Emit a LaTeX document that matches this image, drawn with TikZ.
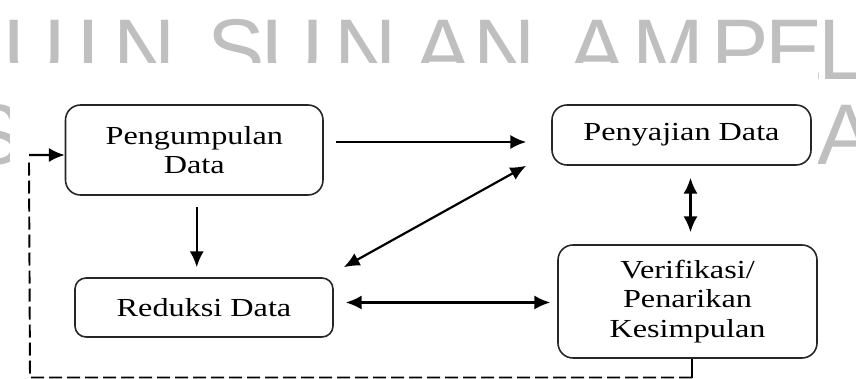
\documentclass[tikz,border=0pt]{standalone}
\usepackage{fontspec}
\setmainfont{Liberation Serif}[FakeStretch=1.24]
\newfontfamily\wmfont{Liberation Sans}
\usetikzlibrary{arrows.meta}
\begin{document}
\begin{tikzpicture}[
  box/.style={draw=black!85, line width=0.9pt, rounded corners=0.3cm, align=center, inner sep=0pt, font=\fontsize{14.8}{16.6}\selectfont},
  arr/.style={line width=1.25pt, -{Latex[length=9pt,width=8pt]}},
  darr/.style={line width=1.25pt, {Latex[length=9pt,width=8pt]}-{Latex[length=9pt,width=8pt]}},
  wm/.style={text=black!25, font=\wmfont\fontsize{49}{49}\selectfont, anchor=base, inner sep=0pt}]
\useasboundingbox (0,0) rectangle (17.12,7.56);
\foreach \c/\x [count=\i] in {U/0.70,I/1.76,N/2.90,S/4.72,U/5.86,N/7.32,A/8.86,N/10.10,A/11.94,M/13.36,P/14.80,E/15.88,L/16.84}
  \node[wm] (wma\i) at (\x,5.96) {\c};
\node[wm] (wmb1) at (-0.12,4.26) {S};
\node[wm] (wmb2) at (16.92,4.26) {A};
\fill[white] (0.2,0) rectangle (16.36,6.3);

\node[box, minimum width=5.15cm, minimum height=1.8cm] (peng) at (3.885,4.56) {Pengumpulan\\Data};
\node[box, minimum width=5.18cm, minimum height=1.2cm] (peny) at (13.63,4.86) {Penyajian Data};
\node[box, minimum width=5.16cm, minimum height=1.18cm, rounded corners=0.22cm] (red) at (4.08,1.41) {Reduksi Data};
\node[box, minimum width=5.18cm, minimum height=2.26cm] (ver) at (13.75,1.53) {Verifikasi/\\Penarikan\\Kesimpulan};

\draw[arr, shorten <=0.24cm, shorten >=0.5cm] ([yshift=0.16cm]peng.east) -- ([yshift=0.16cm]peng.east -| peny.west);
\draw[arr, shorten <=0.22cm, shorten >=0.2cm] ([xshift=0.05cm]peng.south) -- ([xshift=0.05cm]peng.south |- red.north);
\draw[darr] ([shift={(0.2,0.2)}]red.north east) -- ([shift={(-0.5,0)}]peny.south west);
\draw[darr, shorten <=0.24cm, shorten >=0.24cm] ([xshift=0.06cm]ver.north) -- ([xshift=0.06cm]ver.north |- peny.south);
\draw[darr, shorten <=0.24cm, shorten >=0.14cm] ([yshift=0.1cm]red.east) -- ([yshift=0.1cm]red.east -| ver.west);

\coordinate (fb) at (0.6,0.01);
\coordinate (fbtop) at (0.58,4.46);
\coordinate (fbturn) at (13.84,0.01);
\draw[line width=1.1pt] ([xshift=0.09cm]ver.south) -- (fbturn);
\draw[line width=1.1pt, dash pattern=on 0.26cm off 0.1cm] (fbturn) -- (fb) -- ([yshift=-0.14cm]fbtop);
\draw[arr] (fbtop) -- ([yshift=-0.1cm]peng.west);
\end{tikzpicture}
\end{document}
